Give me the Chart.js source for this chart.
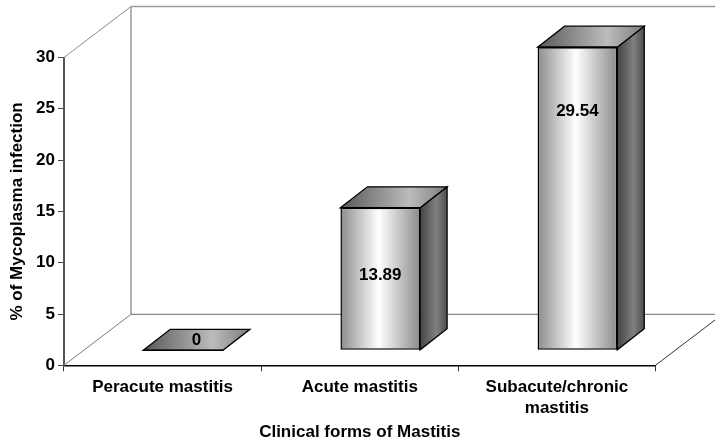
<!DOCTYPE html>
<html>
<head>
<meta charset="utf-8">
<style>
    html, body { margin: 0; padding: 0; background: #fff; }
    canvas { display: block; }
</style>
<script src="https://cdn.jsdelivr.net/npm/chart.js@4"></script>
</head>
<body>
<canvas id="chart" width="715" height="444"></canvas>
<script>
// Data
const categories = ['Peracute mastitis', 'Acute mastitis', ['Subacute/chronic', 'mastitis']];
const infectionValues = [0, 13.89, 29.54];
const yMin = 0;
const yMax = 30;
const yStep = 5;
const xTitle = 'Clinical forms of Mastitis';
const yTitle = '% of Mycoplasma infection';

const FONT = '"Liberation Sans", Arial, sans-serif';

// 3D offsets
const wallDx = 67, wallDy = 51;     // back wall from the axes
const barShiftX = 20.5, barShiftY = -15; // bar front face from the axis plane
const barDx = 27, barDy = 21;       // bar depth
const labelDrop = [0, 67.5, 64];    // value label distance below the bar top

function frontGradient(ctx, left, right) {
    const g = ctx.createLinearGradient(left, 0, right, 0);
    g.addColorStop(0, '#8c8c8c');
    g.addColorStop(0.48, '#ffffff');
    g.addColorStop(1, '#8c8c8c');
    return g;
}

function polygon(ctx, pts, fill, stroke, width) {
    ctx.beginPath();
    pts.forEach((p, i) => i ? ctx.lineTo(p[0], p[1]) : ctx.moveTo(p[0], p[1]));
    ctx.closePath();
    ctx.fillStyle = fill;
    ctx.fill();
    ctx.strokeStyle = stroke;
    ctx.lineWidth = width;
    ctx.lineJoin = 'miter';
    ctx.stroke();
}

function line(ctx, x1, y1, x2, y2, color, width) {
    ctx.beginPath();
    ctx.moveTo(x1, y1);
    ctx.lineTo(x2, y2);
    ctx.strokeStyle = color;
    ctx.lineWidth = width;
    ctx.stroke();
}

// Back wall and floor, behind everything
const wallsPlugin = {
    id: 'walls',
    beforeDatasetsDraw(chart) {
        const { ctx, chartArea: a } = chart;
        const farRight = a.right + wallDx;
        ctx.save();
        line(ctx, a.left, a.top, a.left + wallDx, a.top - wallDy, '#8a8a8a', 1);
        line(ctx, a.left + wallDx, a.top - wallDy, a.left + wallDx, a.bottom - wallDy, '#8a8a8a', 1.3);
        line(ctx, a.left + wallDx, a.top - wallDy, farRight, a.top - wallDy, '#9a9a9a', 1.5);
        line(ctx, a.left + wallDx, a.bottom - wallDy, farRight, a.bottom - wallDy, '#8a8a8a', 1.3);
        line(ctx, a.left, a.bottom, a.left + wallDx, a.bottom - wallDy, '#7a7a7a', 1);
        line(ctx, a.right, a.bottom, farRight, a.bottom - wallDy, '#333333', 1);
        ctx.restore();
    },
    // the front faces are drawn by the library, shifted back onto the floor
    beforeDatasetDraw(chart) {
        chart.ctx.save();
        chart.ctx.translate(barShiftX, barShiftY);
    },
    afterDatasetDraw(chart) {
        chart.ctx.restore();
    }
};

// Side and top faces of each bar, then the value labels
const barFacesPlugin = {
    id: 'barFaces',
    afterDatasetsDraw(chart) {
        const { ctx } = chart;
        const bars = chart.getDatasetMeta(0).data;
        ctx.save();
        bars.forEach((bar, i) => {
            const left = bar.x - bar.width / 2 + barShiftX;
            const right = bar.x + bar.width / 2 + barShiftX;
            const top = bar.y + barShiftY;
            const bottom = bar.base + barShiftY;

            if (bottom - top > 0.5) {
                const side = ctx.createLinearGradient(right, 0, right + barDx, 0);
                side.addColorStop(0, '#444444');
                side.addColorStop(0.6, '#808080');
                side.addColorStop(1, '#505050');
                polygon(ctx, [[right, top], [right + barDx, top - barDy], [right + barDx, bottom - barDy], [right, bottom]], side, '#000', 1.3);
            }

            const cap = ctx.createLinearGradient(left, 0, right + barDx, 0);
            cap.addColorStop(0, '#585858');
            cap.addColorStop(0.65, '#bcbcbc');
            cap.addColorStop(1, '#7c7c7c');
            polygon(ctx, [[left, top], [left + barDx, top - barDy], [right + barDx, top - barDy], [right, top]], cap, '#000', 1.3);
            line(ctx, left, top, right, top, '#000', 1.5);

            ctx.fillStyle = '#000';
            ctx.font = 'bold 17px ' + FONT;
            ctx.textAlign = 'center';
            ctx.textBaseline = 'middle';
            const value = infectionValues[i];
            if (value === 0) {
                ctx.fillText(String(value), (left + right + barDx) / 2, top - barDy / 2 + 0.5);
            } else {
                ctx.fillText(String(value), (left + right) / 2, top + labelDrop[i]);
            }
        });
        ctx.restore();
    }
};

new Chart(document.getElementById('chart'), {
    type: 'bar',
    data: {
        labels: categories,
        datasets: [{
            data: infectionValues,
            clip: false,
            categoryPercentage: 1,
            barPercentage: 0.404,
            borderColor: '#000',
            borderWidth: 1.5,
            borderSkipped: false,
            backgroundColor: function(context) {
                const chart = context.chart;
                if (!chart.chartArea) return '#cccccc';
                const x = chart.scales.x.getPixelForValue(context.dataIndex);
                const half = chart.chartArea.width / categories.length * 0.404 / 2;
                return frontGradient(chart.ctx, x - half, x + half);
            }
        }]
    },
    options: {
        responsive: false,
        animation: false,
        layout: { padding: { top: 57.5, right: 59.5, left: 0, bottom: 0 } },
        plugins: { legend: { display: false }, tooltip: { enabled: false } },
        scales: {
            x: {
                afterFit: function(scale) { scale.height = 444 - 365.3; },
                border: { color: '#000', width: 1.5 },
                grid: { offset: true, drawOnChartArea: false, color: '#333', tickLength: 6, tickWidth: 1 },
                ticks: {
                    color: '#000',
                    padding: 5.5,
                    maxRotation: 0,
                    autoSkip: false,
                    font: { family: FONT, size: 17, weight: 'bold', lineHeight: 1.24 }
                },
                title: {
                    display: true,
                    text: xTitle,
                    color: '#000',
                    padding: { top: 4, bottom: 1 },
                    font: { family: FONT, size: 17, weight: 'bold' }
                }
            },
            y: {
                min: yMin,
                max: yMax,
                afterFit: function(scale) { scale.width = 64; },
                border: { color: '#555', width: 2 },
                grid: { drawOnChartArea: false, color: '#444', tickLength: 6, tickWidth: 1 },
                ticks: {
                    stepSize: yStep,
                    color: '#000',
                    padding: 3,
                    font: { family: FONT, size: 17, weight: 'bold' }
                },
                title: {
                    display: true,
                    text: yTitle,
                    color: '#000',
                    padding: { top: 7, bottom: 4 },
                    font: { family: FONT, size: 17, weight: 'bold' }
                }
            }
        }
    },
    plugins: [wallsPlugin, barFacesPlugin]
});
</script>
</body>
</html>
